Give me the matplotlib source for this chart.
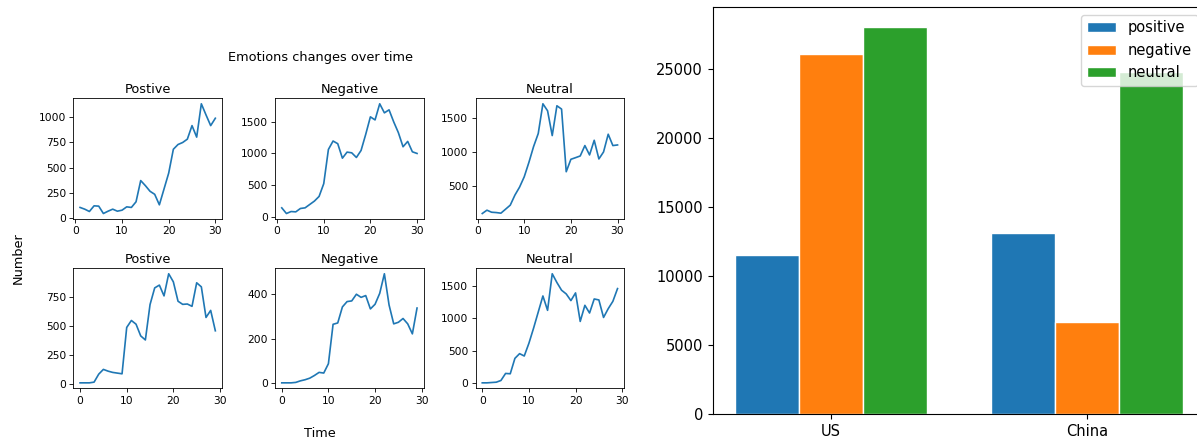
import matplotlib
matplotlib.use("Agg")
import matplotlib.pyplot as plt
import numpy as np

# ---- data ----
days_top = list(range(1, 31))
days_bottom = list(range(0, 30))

top_positive = [107, 90, 67, 123, 120, 47, 70, 90, 70, 80, 113, 107, 163, 373, 323,
                267, 237, 133, 290, 447, 683, 730, 750, 783, 917, 803, 1133, 1023, 917, 990]
top_negative = [147, 58, 89, 84, 137, 147, 200, 253, 326, 526, 1063, 1195, 1153, 926, 1021,
                1010, 937, 1047, 1300, 1574, 1526, 1779, 1637, 1684, 1495, 1326, 1105, 1189, 1026, 1000]
top_neutral = [94, 143, 113, 108, 99, 158, 217, 365, 483, 635, 847, 1079, 1271, 1709, 1606,
               1241, 1680, 1631, 709, 892, 916, 941, 1094, 956, 1172, 897, 1000, 1261, 1094, 1103]

bot_positive = [6, 6, 6, 12, 81, 122, 107, 96, 90, 84, 484, 544, 512, 411, 376,
                681, 825, 849, 756, 947, 877, 710, 683, 686, 666, 869, 834, 570, 631, 455]
bot_negative = [1, 1, 1, 3, 10, 15, 22, 34, 48, 45, 87, 264, 270, 342, 366,
                369, 399, 385, 393, 333, 354, 403, 491, 351, 266, 273, 290, 266, 221, 337]
bot_neutral = [10, 10, 15, 20, 46, 154, 149, 385, 457, 421, 616, 847, 1094, 1340, 1120,
               1680, 1546, 1428, 1371, 1269, 1387, 950, 1197, 1079, 1294, 1279, 1011, 1145, 1258, 1453]

panel_titles = ["Postive", "Negative", "Neutral"]

countries = ["US", "China"]
bar_positive = [11500, 13150]
bar_negative = [26080, 6690]
bar_neutral = [28070, 24770]
bar_labels = ["positive", "negative", "neutral"]

# ---- figure ----
W, H = 1197, 440
fig = plt.figure(figsize=(W / 100, H / 100), dpi=100)

def px_axes(left, top, right, bottom):
    return fig.add_axes([left / W, 1 - bottom / H, (right - left) / W, (bottom - top) / H])

small_fs = 7.7
title_fs = 9.3
lefts = [73.3, 275.0, 475.5]
width = 148.8
rows = [(98.3, 219.0), (268.3, 388.3)]

top_series = [top_positive, top_negative, top_neutral]
bot_series = [bot_positive, bot_negative, bot_neutral]
top_yticks = [[0, 250, 500, 750, 1000], [0, 500, 1000, 1500], [500, 1000, 1500]]
bot_yticks = [[0, 250, 500, 750], [0, 200, 400], [0, 500, 1000, 1500]]

for r, (series_set, xs, yticks_set) in enumerate([(top_series, days_top, top_yticks),
                                                  (bot_series, days_bottom, bot_yticks)]):
    t, b = rows[r]
    for c in range(3):
        ax = px_axes(lefts[c], t, lefts[c] + width, b)
        ax.plot(xs, series_set[c], color="C0", lw=1.2)
        ax.set_title(panel_titles[c], fontsize=title_fs, pad=4)
        ax.set_xticks([0, 10, 20, 30])
        ax.set_yticks(yticks_set[c])
        ax.tick_params(labelsize=small_fs, length=2.7, width=0.6, pad=2.5)
        for s in ax.spines.values():
            s.set_linewidth(0.6)

fig.text(320 / W, 1 - 57 / H, "Emotions changes over time", ha="center", va="center", fontsize=title_fs)
fig.text(320 / W, 1 - 433 / H, "Time", ha="center", va="center", fontsize=title_fs)
fig.text(18 / W, 1 - 258 / H, "Number", ha="center", va="center", rotation=90, fontsize=title_fs)

# ---- bar chart ----
bax = px_axes(712.7, 7.3, 1205.0, 414.0)
x = np.arange(len(countries))
bw = 0.25
bax.bar(x - bw, bar_positive, bw, label=bar_labels[0], color="C0", edgecolor="white")
bax.bar(x, bar_negative, bw, label=bar_labels[1], color="C1", edgecolor="white")
bax.bar(x + bw, bar_neutral, bw, label=bar_labels[2], color="C2", edgecolor="white")
bax.set_xticks(x)
bax.set_xticklabels(countries)
bax.tick_params(labelsize=10.5)
bax.legend(loc="upper right", fontsize=10.5)

fig.savefig("out.png", dpi=100)
